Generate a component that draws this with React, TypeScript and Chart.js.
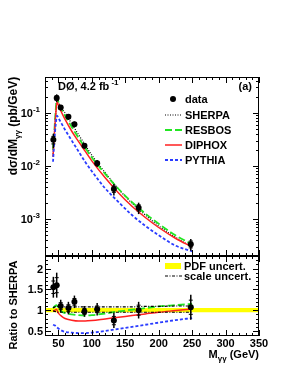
import React, { useEffect, useRef } from "react";
import { Chart, registerables } from "chart.js";
Chart.register(...registerables);

// ---------- data ----------
const massPoints = [42.5, 47.5, 53.5, 65, 74, 89, 108, 133, 170, 248];
const xsecData = [0.031, 0.19, 0.126, 0.084, 0.061, 0.024, 0.0113, 0.0037, 0.00165, 0.00034];
const xsecErr = [0.0093, 0.032, 0.015, 0.01, 0.0073, 0.0029, 0.0017, 0.0009, 0.0004, 0.000085];
const xsecStat = [0.005, 0.018, 0.008, 0.005, 0.004, 0.0015, 0.0009, 0.0005, 0.00022, 0.00005];
const ratioData = [1.55, 1.6, 1.1, 1.05, 1.2, 0.97, 1.02, 0.75, 1.0, 1.07];
const ratioErr = [0.25, 0.3, 0.15, 0.15, 0.15, 0.13, 0.15, 0.18, 0.2, 0.3];
const ratioStat = [0.15, 0.18, 0.08, 0.08, 0.08, 0.07, 0.08, 0.1, 0.12, 0.17];

const curveMass = [42, 44, 46, 48, 50, 55, 60, 70, 80, 90, 100, 120, 140, 160, 180, 200, 225, 250];
const sherpaXsec = [0.015, 0.04, 0.1, 0.19, 0.16, 0.12, 0.1, 0.062, 0.039, 0.025, 0.016, 0.0075, 0.0037, 0.002, 0.0012, 0.00075, 0.00046, 0.0003];
const resbosXsec = [0.02, 0.045, 0.11, 0.19, 0.16, 0.115, 0.088, 0.054, 0.034, 0.022, 0.0145, 0.0071, 0.0037, 0.0021, 0.00128, 0.00082, 0.0005, 0.00034];
const diphoxXsec = [0.015, 0.04, 0.09, 0.16, 0.14, 0.1, 0.075, 0.045, 0.029, 0.019, 0.0125, 0.006, 0.0031, 0.00175, 0.00108, 0.0007, 0.00044, 0.0003];
const pythiaXsec = [0.012, 0.03, 0.06, 0.088, 0.08, 0.062, 0.048, 0.03, 0.019, 0.012, 0.008, 0.0038, 0.0021, 0.0012, 0.00075, 0.0005, 0.00032, 0.00025];

const ratioMass = [42, 45, 47, 50, 55, 60, 70, 80, 90, 100, 120, 140, 160, 180, 200, 225, 250];
const resbosRatio = [1.05, 1.1, 1.12, 1.05, 0.97, 0.93, 0.9, 0.88, 0.87, 0.88, 0.92, 0.97, 1.01, 1.05, 1.09, 1.12, 1.15];
const diphoxRatio = [0.98, 1.0, 1.02, 0.93, 0.85, 0.8, 0.76, 0.74, 0.74, 0.75, 0.79, 0.83, 0.87, 0.91, 0.95, 0.99, 1.03];
const pythiaRatio = [0.65, 0.63, 0.6, 0.56, 0.51, 0.48, 0.46, 0.45, 0.45, 0.46, 0.5, 0.55, 0.6, 0.65, 0.7, 0.76, 0.81];
const scaleUp = [1.06, 1.08, 1.09, 1.09, 1.08, 1.08, 1.08, 1.08, 1.08, 1.08, 1.08, 1.08, 1.08, 1.09, 1.09, 1.1, 1.1];
const scaleDown = [0.98, 0.97, 0.96, 0.95, 0.95, 0.95, 0.95, 0.95, 0.95, 0.95, 0.95, 0.95, 0.95, 0.95, 0.95, 0.95, 0.95];
const pdfMass = [30, 350];
const pdfUp = [1.05, 1.05];
const pdfDown = [0.95, 0.95];

const xTickValues = [50, 100, 150, 200, 250, 300, 350];
const xTickLabels = ["50", "100", "150", "200", "250", "300", "350"];
const xsecTickValues = [1e-3, 1e-2, 1e-1];
const xsecTickExps = ["-3", "-2", "-1"];
const ratioTickValues = [0.5, 1, 1.5, 2];
const ratioTickLabels = ["0.5", "1", "1.5", "2"];

// ---------- style ----------
const FONT = "'Liberation Sans', Arial, Helvetica, sans-serif";
const W = 294;
const H = 381;
const X_MIN = 30;
const X_MAX = 350;
const GREEN = "#22e622";
const RED = "#ff2020";
const BLUE = "#2a3cff";
const YELLOW = "#ffff00";

const pts = (xs: number[], ys: number[]) => xs.map((x, i) => ({ x, y: ys[i] }));

function line(ctx: CanvasRenderingContext2D, x1: number, y1: number, x2: number, y2: number) {
  ctx.beginPath();
  ctx.moveTo(x1, y1);
  ctx.lineTo(x2, y2);
  ctx.stroke();
}

function drawXTicks(chart: any, withLabels: boolean) {
  const { ctx, chartArea: a, scales } = chart;
  const x = scales.x;
  ctx.save();
  ctx.strokeStyle = "#000";
  ctx.lineWidth = 1;
  for (let v = X_MIN; v <= X_MAX; v += 10) {
    const px = Math.round(x.getPixelForValue(v)) + 0.5;
    const len = v % 50 === 0 ? 6 : 3;
    line(ctx, px, a.bottom, px, a.bottom - len);
    line(ctx, px, a.top, px, a.top + len);
  }
  if (withLabels) {
    ctx.fillStyle = "#000";
    ctx.font = `bold 11px ${FONT}`;
    ctx.textAlign = "center";
    ctx.textBaseline = "alphabetic";
    xTickValues.forEach((v, i) => {
      ctx.fillText(xTickLabels[i], x.getPixelForValue(v), a.bottom + 11);
    });
  }
  ctx.strokeRect(a.left + 0.5, a.top + 0.5, a.right - a.left - 1, a.bottom - a.top - 1);
  ctx.restore();
}

function drawErrorBars(chart: any, dsIndex: number, errs: number[], stats: number[]) {
  const { ctx, scales } = chart;
  const meta = chart.getDatasetMeta(dsIndex);
  const ds = chart.data.datasets[dsIndex];
  ctx.save();
  ctx.strokeStyle = "#000";
  ctx.lineWidth = 1.5;
  meta.data.forEach((el: any, i: number) => {
    const v = ds.data[i].y;
    const px = el.x;
    const top = scales.y.getPixelForValue(v + errs[i]);
    const bot = scales.y.getPixelForValue(v - errs[i]);
    line(ctx, px, top, px, bot);
    const st = scales.y.getPixelForValue(v + stats[i]);
    const sb = scales.y.getPixelForValue(v - stats[i]);
    ctx.lineWidth = 1;
    line(ctx, px - 2, st, px + 2, st);
    line(ctx, px - 2, sb, px + 2, sb);
    ctx.lineWidth = 1.5;
  });
  ctx.restore();
}

function legendLine(ctx: CanvasRenderingContext2D, y: number, color: string, width: number, dash: number[]) {
  ctx.save();
  ctx.strokeStyle = color;
  ctx.lineWidth = width;
  ctx.setLineDash(dash);
  line(ctx, 165, y, 182, y);
  ctx.restore();
}

const topPlugin = {
  id: "topDecor",
  beforeDatasetDraw(chart: any, args: any) {
    if (args.index === 0) drawErrorBars(chart, 0, xsecErr, xsecStat);
  },
  afterDraw(chart: any) {
    const { ctx, chartArea: a, scales } = chart;
    const y = scales.y;
    drawXTicks(chart, false);
    ctx.save();
    ctx.strokeStyle = "#000";
    ctx.lineWidth = 1;
    for (let e = -4; e <= 0; e++) {
      for (let m = 1; m <= 9; m++) {
        const v = m * Math.pow(10, e);
        if (v < y.min || v > y.max) continue;
        const py = Math.round(y.getPixelForValue(v)) + 0.5;
        const len = m === 1 ? 6 : 3;
        line(ctx, a.left, py, a.left + len, py);
        line(ctx, a.right, py, a.right - len, py);
      }
    }
    // y tick labels 10^n
    ctx.fillStyle = "#000";
    ctx.textBaseline = "alphabetic";
    ctx.textAlign = "left";
    xsecTickValues.forEach((v, i) => {
      const py = y.getPixelForValue(v);
      ctx.font = `bold 8px ${FONT}`;
      const sw = ctx.measureText(xsecTickExps[i]).width;
      ctx.font = `bold 11px ${FONT}`;
      const bw = ctx.measureText("10").width;
      const right = 40;
      ctx.fillText("10", right - sw - bw, py + 4);
      ctx.font = `bold 8px ${FONT}`;
      ctx.fillText(xsecTickExps[i], right - sw, py - 1);
    });
    // y title
    ctx.save();
    ctx.translate(17, 126);
    ctx.rotate(-Math.PI / 2);
    const f1 = `bold 12px ${FONT}`;
    const f2 = `bold 8px ${FONT}`;
    ctx.font = f1;
    const p1 = "d\u03c3/dM";
    const p3 = " (pb/GeV)";
    const w1 = ctx.measureText(p1).width;
    const w3 = ctx.measureText(p3).width;
    ctx.font = f2;
    const w2 = ctx.measureText("\u03b3\u03b3").width;
    let sx = -(w1 + w2 + w3) / 2;
    ctx.font = f1;
    ctx.fillText(p1, sx, 0);
    sx += w1;
    ctx.font = f2;
    ctx.fillText("\u03b3\u03b3", sx, 3);
    sx += w2;
    ctx.font = f1;
    ctx.fillText(p3, sx, 0);
    ctx.restore();
    // header texts
    ctx.font = `bold 11px ${FONT}`;
    ctx.textAlign = "left";
    const hdr = "D\u00d8, 4.2 fb";
    ctx.fillText(hdr, 58, 90);
    const hw = ctx.measureText(hdr + " ").width;
    ctx.font = `bold 8px ${FONT}`;
    ctx.fillText("-1", 58 + hw - 1, 85);
    ctx.font = `bold 11px ${FONT}`;
    ctx.textAlign = "right";
    ctx.fillText("(a)", 252, 90);
    // legend
    ctx.textAlign = "left";
    ctx.beginPath();
    ctx.arc(173, 99, 3, 0, Math.PI * 2);
    ctx.fill();
    ctx.fillText("data", 185, 103);
    legendLine(ctx, 115, "#000", 1.2, [1, 1.5]);
    ctx.fillText("SHERPA", 185, 119);
    legendLine(ctx, 130, GREEN, 1.8, [7, 3]);
    ctx.fillText("RESBOS", 185, 134);
    legendLine(ctx, 145, RED, 1.5, []);
    ctx.fillText("DIPHOX", 185, 149);
    legendLine(ctx, 160, BLUE, 1.8, [3, 2]);
    ctx.fillText("PYTHIA", 185, 164);
    ctx.restore();
  },
};

const ratioPlugin = {
  id: "ratioDecor",
  beforeDatasetDraw(chart: any, args: any) {
    if (args.index === 0) drawErrorBars(chart, 0, ratioErr, ratioStat);
  },
  afterDraw(chart: any) {
    const { ctx, chartArea: a, scales } = chart;
    const y = scales.y;
    drawXTicks(chart, true);
    ctx.save();
    ctx.strokeStyle = "#000";
    ctx.lineWidth = 1;
    for (let k = 4; k <= 23; k++) {
      const v = k / 10;
      if (v < y.min || v > y.max) continue;
      const py = Math.round(y.getPixelForValue(v)) + 0.5;
      const len = k % 5 === 0 ? 6 : 3;
      line(ctx, a.left, py, a.left + len, py);
      line(ctx, a.right, py, a.right - len, py);
    }
    ctx.fillStyle = "#000";
    ctx.font = `bold 11px ${FONT}`;
    ctx.textAlign = "right";
    ctx.textBaseline = "alphabetic";
    ratioTickValues.forEach((v, i) => {
      ctx.fillText(ratioTickLabels[i], 43, y.getPixelForValue(v) + 4);
    });
    // y title
    ctx.save();
    ctx.translate(17, 305);
    ctx.rotate(-Math.PI / 2);
    ctx.textAlign = "center";
    ctx.font = `bold 11px ${FONT}`;
    ctx.fillText("Ratio to SHERPA", 0, 0);
    ctx.restore();
    // x title
    const f1 = `bold 11px ${FONT}`;
    const f2 = `bold 8px ${FONT}`;
    ctx.textAlign = "left";
    ctx.font = f1;
    const wM = ctx.measureText("M").width;
    const w3 = ctx.measureText(" (GeV)").width;
    ctx.font = f2;
    const w2 = ctx.measureText("\u03b3\u03b3").width;
    let sx = 259 - wM - w2 - w3;
    ctx.font = f1;
    ctx.fillText("M", sx, 358);
    sx += wM;
    ctx.font = f2;
    ctx.fillText("\u03b3\u03b3", sx, 361);
    sx += w2;
    ctx.font = f1;
    ctx.fillText(" (GeV)", sx, 358);
    // legend
    ctx.fillStyle = YELLOW;
    ctx.fillRect(165, 263, 16, 6);
    ctx.fillStyle = "#000";
    ctx.font = `bold 11px ${FONT}`;
    ctx.fillText("PDF uncert.", 184, 270);
    legendLine(ctx, 276, "#000", 1.2, [3, 1.5, 1, 1.5]);
    ctx.fillText("scale uncert.", 184, 280);
    ctx.restore();
  },
};

function baseOptions(yScale: any, padding: any) {
  return {
    responsive: false,
    animation: false as const,
    devicePixelRatio: 1,
    layout: { padding },
    plugins: { legend: { display: false }, tooltip: { enabled: false } },
    scales: {
      x: { type: "linear" as const, min: X_MIN, max: X_MAX, display: false },
      y: { ...yScale, display: false },
    },
    elements: { point: { radius: 0 } },
  };
}

export default function App() {
  const topRef = useRef<HTMLCanvasElement>(null);
  const botRef = useRef<HTMLCanvasElement>(null);

  useEffect(() => {
    document.body.style.margin = "0";
    const lineDs = (label: string, xs: number[], ys: number[], color: string, width: number, dash: number[]) => ({
      label,
      data: pts(xs, ys),
      borderColor: color,
      borderWidth: width,
      borderDash: dash,
      pointRadius: 0,
      fill: false,
      cubicInterpolationMode: "monotone" as const,
    });
    const dataDs = (ys: number[]) => ({
      label: "data",
      data: pts(massPoints, ys),
      showLine: false,
      pointRadius: 3,
      pointBackgroundColor: "#000",
      pointBorderWidth: 0,
      borderColor: "#000",
    });

    const top = new Chart(topRef.current!, {
      type: "line",
      data: {
        datasets: [
          dataDs(xsecData),
          lineDs("PYTHIA", curveMass, pythiaXsec, BLUE, 1.8, [3, 2]),
          lineDs("DIPHOX", curveMass, diphoxXsec, RED, 1.5, []),
          lineDs("RESBOS", curveMass, resbosXsec, GREEN, 1.8, [7, 3]),
          lineDs("SHERPA", curveMass, sherpaXsec, "#000", 1.2, [1, 1.5]),
        ],
      },
      options: baseOptions({ type: "logarithmic", min: 2.04e-4, max: 0.47 }, { left: 45, top: 77, right: 35, bottom: 125 }) as any,
      plugins: [topPlugin],
    });

    const bot = new Chart(botRef.current!, {
      type: "line",
      data: {
        datasets: [
          dataDs(ratioData),
          lineDs("scale up", ratioMass, scaleUp, "#000", 1.2, [3, 1.5, 1, 1.5]),
          lineDs("scale down", ratioMass, scaleDown, "#000", 1.2, [3, 1.5, 1, 1.5]),
          lineDs("PYTHIA", ratioMass, pythiaRatio, BLUE, 1.8, [3, 2]),
          lineDs("DIPHOX", ratioMass, diphoxRatio, RED, 1.5, []),
          lineDs("RESBOS", ratioMass, resbosRatio, GREEN, 1.8, [7, 3]),
          {
            label: "PDF up",
            data: pts(pdfMass, pdfUp),
            borderWidth: 0,
            pointRadius: 0,
            backgroundColor: YELLOW,
            fill: "+1",
          },
          {
            label: "PDF down",
            data: pts(pdfMass, pdfDown),
            borderWidth: 0,
            pointRadius: 0,
            fill: false,
          },
        ],
      },
      options: baseOptions({ type: "linear", min: 0.38, max: 2.3 }, { left: 45, top: 256, right: 35, bottom: 45 }) as any,
      plugins: [ratioPlugin],
    });

    return () => {
      top.destroy();
      bot.destroy();
    };
  }, []);

  const cs: React.CSSProperties = { position: "absolute", left: 0, top: 0 };
  return (
    <div style={{ position: "relative", width: W, height: H, background: "#fff" }}>
      <canvas ref={topRef} width={W} height={H} style={cs} />
      <canvas ref={botRef} width={W} height={H} style={cs} />
    </div>
  );
}
